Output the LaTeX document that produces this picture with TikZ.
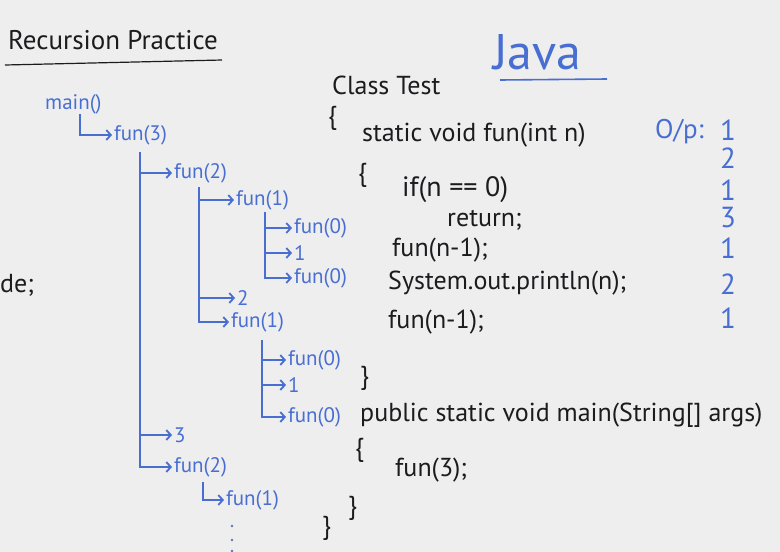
\documentclass[tikz,border=0pt]{standalone}
\usepackage{fontspec}
\setmainfont{PT Sans}
\usetikzlibrary{arrows.meta}
\definecolor{board}{RGB}{238,238,239}
\definecolor{ink}{RGB}{28,28,30}
\definecolor{marker}{RGB}{72,110,210}
\begin{document}
\begin{tikzpicture}[x=1pt,y=-1pt,
  tree/.style={text=marker,font=\fontsize{21}{24}\selectfont,anchor=west,inner sep=1pt},
  code/.style={text=ink,font=\fontsize{26}{30}\selectfont,anchor=west,inner sep=0pt},
  outnum/.style={text=marker,font=\fontsize{29}{31}\selectfont,inner sep=0pt},
  branch/.style={draw=marker,line width=1.8pt,-{Straight Barb[length=4.5pt,width=10pt]},shorten >=1pt},
]
% whiteboard
\fill[board] (0,0) rectangle (780,552);
\useasboundingbox (0,0) rectangle (780,552);

% headings
\node[code,font=\fontsize{27}{30}\selectfont] (title) at (8,40) {Recursion Practice};
\draw[ink,line width=1.2pt] (5,65) -- (222,60);
\node[text=marker,font=\fontsize{50}{54}\selectfont,anchor=west,inner sep=0pt] (java) at (493,52) {Java};
\draw[marker,line width=1.6pt] (500,80) -- (607,79);

% cut-off text at the left edge
\node[code] (edge) at (0,285) {de;};

% recursion tree
\node[tree] (main) at (44,104) {main()};
\node[tree] (fun3) at (113,135) {fun(3)};
\node[tree] (f2a) at (173,173) {fun(2)};
\node[tree] (f1a) at (235,200) {fun(1)};
\node[tree] (f0a) at (293,228) {fun(0)};
\node[tree] (p1a) at (293,253) {1};
\node[tree] (f0b) at (293,278) {fun(0)};
\node[tree] (p2) at (236,298) {2};
\node[tree] (f1b) at (230,322) {fun(1)};
\node[tree] (f0c) at (287,360) {fun(0)};
\node[tree] (p1b) at (287,385) {1};
\node[tree] (f0d) at (287,417) {fun(0)};
\node[tree] (p3) at (173,435) {3};
\node[tree] (f2b) at (173,467) {fun(2)};
\node[tree] (f1c) at (225,500) {fun(1)};
\node[inner sep=0pt] (more) at (232,538) {};
\foreach \yy in {-12,2,13} \fill[marker!70!gray] ([yshift=-\yy pt]more) circle (1.3pt);

% trunks of the tree
\coordinate (tm) at (80,114);
\coordinate (t3) at (140,152);
\coordinate (t2) at (199,187);
\coordinate (t1a) at (265,212);
\coordinate (t1b) at (262,340);
\coordinate (t2b) at (203,482);

\draw[branch] (tm) |- (fun3.west);
\foreach \c in {f2a,p3,f2b} \draw[branch] (t3) |- (\c.west);
\foreach \c in {f1a,p2,f1b} \draw[branch] (t2) |- (\c.west);
\foreach \c in {f0a,p1a,f0b} \draw[branch] (t1a) |- (\c.west);
\foreach \c in {f0c,p1b,f0d} \draw[branch] (t1b) |- (\c.west);
\draw[branch] (t2b) |- (f1c.west);

% Java code
\node[code] (cls) at (332,85) {Class Test};
\node[code] (ob1) at (328,118) {\{};
\node[code] (sig) at (362,135) {static void fun(int n)};
\node[code] (ob2) at (358,175) {\{};
\node[code,font=\fontsize{28}{30}\selectfont] (iff) at (402,190) {if(n == 0)};
\node[code] (ret) at (447,220) {return;};
\node[code] (call1) at (392,250) {fun(n-1);};
\node[code] (prn) at (388,283) {System.out.println(n);};
\node[code] (call2) at (388,322) {fun(n-1);};
\node[code] (cb2) at (360,378) {\}};
\node[code] (mainsig) at (360,415) {public static void main(String[] args)};
\node[code] (ob3) at (355,450) {\{};
\node[code] (call3) at (395,470) {fun(3);};
\node[code] (cb3) at (348,508) {\}};
\node[code] (cb1) at (322,528) {\}};

% printed output
\node[text=marker,font=\fontsize{27}{30}\selectfont,anchor=west,inner sep=0pt] (op) at (655,132) {O/p:};
\node[outnum] (o1) at (728,130) {1};
\node[outnum] (o2) at (728,158) {2};
\node[outnum] (o3) at (728,190) {1};
\node[outnum] (o4) at (728,218) {3};
\node[outnum] (o5) at (728,248) {1};
\node[outnum] (o6) at (728,284) {2};
\node[outnum] (o7) at (728,318) {1};
\end{tikzpicture}
\end{document}
